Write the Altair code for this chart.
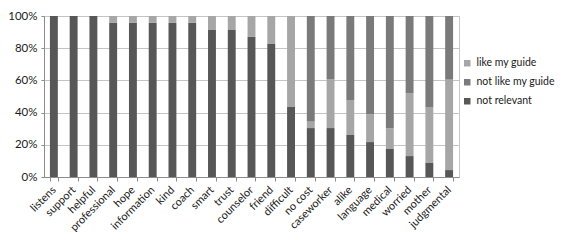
import altair as alt
import pandas as pd

categories = ["listens", "support", "helpful", "professional", "hope", "information",
              "kind", "coach", "smart", "trust", "counselor", "friend", "difficult",
              "no cost", "caseworker", "alike", "language", "medical", "worried",
              "mother", "judgmental"]

# percent of responses
not_relevant = [100, 100, 100, 95.7, 95.7, 95.7, 95.7, 95.7, 91.3, 91.3, 87.0, 82.6,
                43.5, 30.4, 30.4, 26.1, 21.7, 17.4, 13.0, 8.7, 4.3]
like_my_guide = [0, 0, 0, 4.3, 4.3, 4.3, 4.3, 4.3, 8.7, 8.7, 13.0, 17.4,
                 56.5, 4.3, 30.4, 21.7, 17.4, 13.0, 39.1, 34.8, 56.5]
not_like_my_guide = [0, 0, 0, 0, 0, 0, 0, 0, 0, 0, 0, 0,
                     0, 65.3, 39.2, 52.2, 60.9, 69.6, 47.9, 56.5, 39.2]

series_names = ["like my guide", "not like my guide", "not relevant"]
series_colors = ["#a6a6a6", "#7a7a7a", "#575757"]

rows = []
for i, c in enumerate(categories):
    rows.append({"cat": c, "series": "not relevant", "value": not_relevant[i], "ord": 0})
    rows.append({"cat": c, "series": "like my guide", "value": like_my_guide[i], "ord": 1})
    rows.append({"cat": c, "series": "not like my guide", "value": not_like_my_guide[i], "ord": 2})
df = pd.DataFrame(rows)

FONT = "Lato"

chart = alt.Chart(df).mark_bar().encode(
    x=alt.X("cat:N", sort=categories, title=None,
            scale=alt.Scale(paddingInner=0.6, paddingOuter=0.3),
            axis=alt.Axis(labelAngle=-45, labelAlign="right", labelBaseline="middle",
                          labelPadding=7, tickBand="extent", tickSize=4,
                          labelFontSize=11, grid=False)),
    y=alt.Y("value:Q", stack="normalize", title=None,
            scale=alt.Scale(domain=[0, 1]),
            axis=alt.Axis(format="%", values=[0, 0.2, 0.4, 0.6, 0.8, 1.0],
                          tickSize=3, labelPadding=4, labelFontSize=11.5)),
    color=alt.Color("series:N",
                    scale=alt.Scale(domain=series_names, range=series_colors),
                    legend=alt.Legend(title=None, orient="none", legendX=418, legendY=42,
                                      symbolType="square", symbolSize=42,
                                      symbolStrokeWidth=0, labelFontSize=10.5,
                                      rowPadding=8, labelOffset=4, padding=0)),
    order=alt.Order("ord:Q", sort="ascending"),
).properties(
    width=415, height=161,
    autosize=alt.AutoSizeParams(type="none"),
    padding={"left": 36, "top": 8, "right": 100, "bottom": 55},
).configure_view(
    stroke="#c8c8c8"
).configure_axis(
    labelFont=FONT, labelColor="#1a1a1a", domainColor="#8c8c8c", tickColor="#8c8c8c",
    gridColor="#c4c4c4", domainWidth=1
).configure_legend(
    labelFont=FONT, labelColor="#1a1a1a"
)

chart.save("out.html", embed_options={"renderer": "svg", "actions": False})
